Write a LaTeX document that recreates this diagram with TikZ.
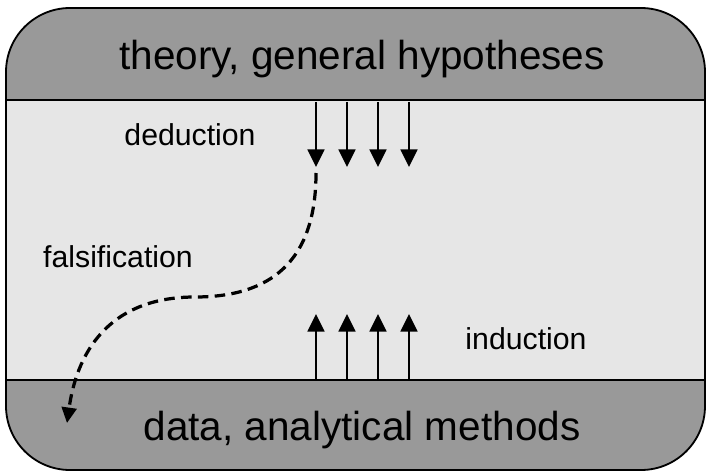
\documentclass[tikz,border=0pt]{standalone}
\usepackage{fontspec}
\setmainfont{Liberation Sans}
\usetikzlibrary{arrows.meta}
\definecolor{bandgray}{RGB}{153,153,153}
\definecolor{fieldgray}{RGB}{230,230,230}
\tikzset{
  bigtext/.style={font=\fontsize{28.8}{34}\selectfont, anchor=base, inner sep=0pt},
  smalltext/.style={font=\fontsize{21.5}{26}\selectfont, anchor=base, inner sep=0pt},
  arrow/.style={-{Triangle[length=12.5pt, width=12pt]}, line width=1.5pt},
  dasharrow/.style={-{Triangle[length=11pt, width=10.5pt]}, line width=2.3pt,
    dash pattern=on 7.5pt off 4.5pt},
  frame/.style={line width=1.3pt, rounded corners=1.6cm}
}

\begin{document}
\begin{tikzpicture}[x=0.025cm, y=-0.025cm]
  \useasboundingbox (0,0) rectangle (711,473);

  % Middle field
  \fill[fieldgray, frame] (6,8) rectangle (705,470);

  % Top and bottom bands
  \fill[bandgray] (6,100) [rounded corners=1.6cm] -- (6,8) -- (705,8) [sharp corners] -- (705,100) -- cycle;
  \fill[bandgray] (6,380) [rounded corners=1.6cm] -- (6,470) -- (705,470) [sharp corners] -- (705,380) -- cycle;
  \draw[line width=1.3pt] (6,100) -- (705,100);
  \draw[line width=1.3pt] (6,380) -- (705,380);
  \draw[frame] (6,8) rectangle (705,470);

  % Band labels
  \node[bigtext] (theory) at (362,70) {theory, general hypotheses};
  \node[bigtext] (data) at (362,440) {data, analytical methods};

  % Arrow labels
  \node[smalltext] (deduction) at (190,146) {deduction};
  \node[smalltext] (falsification) at (118,267) {falsification};
  \node[smalltext] (induction) at (526,349) {induction};

  % Deduction and induction arrows
  \foreach \x [count=\i] in {316,347,378,409} {
    \coordinate (dtop\i) at (\x,102);
    \coordinate (dtip\i) at (\x,167);
    \draw[arrow] (dtop\i) -- (dtip\i);
    \coordinate (ubase\i) at (\x,379);
    \coordinate (utip\i) at (\x,314);
    \draw[arrow] (ubase\i) -- (utip\i);
  }

  % Falsification curve
  \coordinate (fstart) at (316,173);
  \coordinate (fmid) at (195,297);
  \coordinate (fend) at (67,423);
  \draw[dasharrow] (fstart) .. controls (316,262) and (270,297) .. (fmid)
    .. controls (115,297) and (78,345) .. (fend);
\end{tikzpicture}
\end{document}
